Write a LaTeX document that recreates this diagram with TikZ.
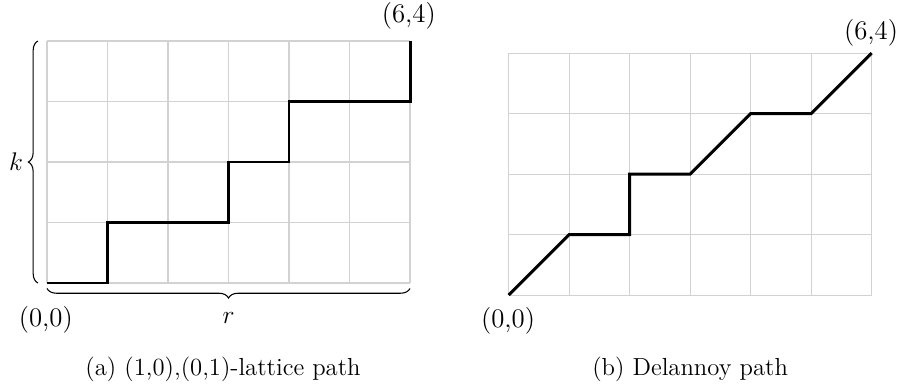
\documentclass[tikz,border=0pt]{standalone}
\usepackage{amsmath,amssymb}
\usepackage{xcolor}
\usepackage{tikz}
\usetikzlibrary{decorations.pathreplacing}

\tikzset{
  gridline/.style={gray!35, line width=0.5pt},
  latpath/.style={line width=1.4pt, black},
  bracedeco/.style={decorate, decoration={brace, amplitude=4.5pt}, line width=0.5pt},
  ptlabel/.style={font=\fontsize{12.6}{15}\selectfont, inner sep=0pt},
  subcap/.style={font=\fontsize{11.6}{14}\selectfont, inner sep=0pt}
}

\begin{document}
\begin{tikzpicture}
  \useasboundingbox (-0.777,-1.785) rectangle (14.132,4.678);

  %% (a) lattice path with unit steps
  \draw[gridline] (0,0) grid (6,4);
  \coordinate (a0) at (0,0);
  \coordinate (a1) at (6,4);
  \draw[latpath] (a0) -- ++(1,0) -- ++(0,1) -- ++(2,0) -- ++(0,1)
                 -- ++(1,0) -- ++(0,1) -- ++(2,0) -- (a1);

  %% braces for k and r
  \coordinate (kb) at (-0.15,0);
  \coordinate (kt) at (-0.15,4);
  \coordinate (rl) at (0,-0.09);
  \coordinate (rr) at (6,-0.09);
  \draw[bracedeco] (kb) -- (kt);
  \draw[bracedeco] (rr) -- (rl);
  \node[ptlabel] (klab) at (-0.51,2.0) {$k$};
  \node[ptlabel] (rlab) at (3.0,-0.58) {$r$};

  \node[ptlabel] (astart) at (-0.02,-0.61) {(0,0)};
  \node[ptlabel] (aend) at (5.98,4.42) {(6,4)};
  \node[subcap] (acap) at (2.91,-1.42) {(a) (1,0),(0,1)-lattice path};

  %% (b) Delannoy path
  \begin{scope}[shift={(7.63,-0.2)}]
    \draw[gridline] (0,0) grid (6,4);
    \coordinate (b0) at (0,0);
    \coordinate (b1) at (6,4);
    \draw[latpath] (b0) -- ++(1,1) -- ++(1,0) -- ++(0,1) -- ++(1,0)
                   -- ++(1,1) -- ++(1,0) -- (b1);
    \node[ptlabel] (bstart) at (-0.01,-0.43) {(0,0)};
    \node[ptlabel] (bend) at (5.99,4.34) {(6,4)};
    \node[subcap] (bcap) at (3.0,-1.22) {(b) Delannoy path};
  \end{scope}
\end{tikzpicture}
\end{document}
